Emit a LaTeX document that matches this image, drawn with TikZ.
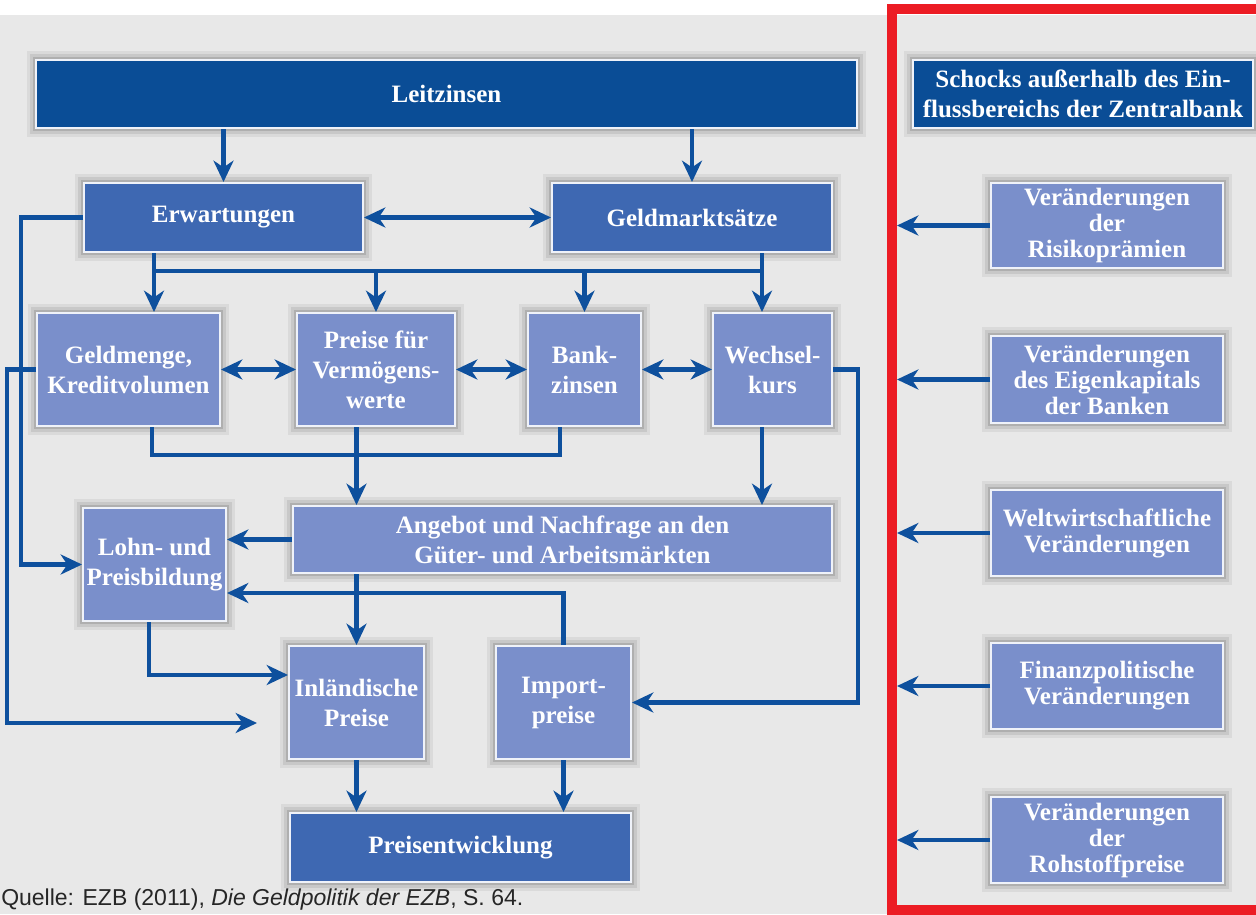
\documentclass[tikz,border=0pt]{standalone}
\usepackage{fontspec}
\setmainfont{Liberation Serif}
\newfontfamily\quellefont{Liberation Sans}
\usepackage{tikz}
\usetikzlibrary{arrows.meta}

\definecolor{bgGray}{RGB}{232,232,232}
\definecolor{ezbDark}{RGB}{10,77,150}
\definecolor{ezbMid}{RGB}{62,104,178}
\definecolor{ezbLight}{RGB}{122,143,203}
\definecolor{ezbArrow}{RGB}{14,80,157}
\definecolor{frameRed}{RGB}{236,28,36}

\begin{document}
\begin{tikzpicture}[x=0.75pt,y=0.75pt,yscale=-1,xscale=1,
  >={Stealth[length=16pt,width=15pt,inset=5pt]},
  glow/.style={preaction={draw=black, draw opacity=0.06, line width=14pt},
    preaction={draw=black, draw opacity=0.08, line width=9pt},
    preaction={draw=black, draw opacity=0.12, line width=5pt}},
  box/.style={glow, draw=white!88!ezbLight, line width=1.5pt, inner sep=0pt, text=white, align=center,
    font=\fontsize{18.75}{22.5}\selectfont\bfseries},
  dark/.style={box, fill=ezbDark},
  mid/.style={box, fill=ezbMid},
  light/.style={box, fill=ezbLight},
  shock/.style={light, minimum width=174pt, minimum height=64.5pt, font=\fontsize{18.75}{19.5}\selectfont\bfseries},
  conn/.style={draw=ezbArrow, line width=3.5pt},
  arr/.style={conn, ->},
  dbl/.style={conn, <->}]
\useasboundingbox (0,0) rectangle (1256,914);

%Background
\fill[white] (0,0) rectangle (1256,15);
\fill[bgGray] (0,15) rectangle (1256,914);

%Shape: Rectangle [left part]
\node[dark, minimum width=615.75pt, minimum height=51pt] (leit) at (446.5,94) {Leitzinsen};
\node[mid, minimum width=209.25pt, minimum height=51.75pt] (erw) at (223.5,217.5) {Erwartungen};
\node[mid, minimum width=210pt, minimum height=51.75pt] (gms) at (692,217.5) {Geldmarktsätze};
\node[light, minimum width=137.25pt, minimum height=84.75pt] (menge) at (128.5,369.5) {Geldmenge,\\Kreditvolumen};
\node[light, minimum width=118.5pt, minimum height=84.75pt] (verm) at (376,369.5) {Preise für\\Vermögens-\\werte};
\node[light, minimum width=84.75pt, minimum height=84.75pt] (bank) at (584.5,369.5) {Bank-\\zinsen};
\node[light, minimum width=89.25pt, minimum height=84.75pt] (wech) at (772.5,369.5) {Wechsel-\\kurs};
\node[light, minimum width=404.25pt, minimum height=50.25pt] (ang) at (562.5,539.5) {Angebot und Nachfrage an den\\Güter- und Arbeitsmärkten};
\node[light, minimum width=107.25pt, minimum height=84.75pt] (lohn) at (154.5,564.5) {Lohn- und\\Preisbildung};
\node[light, minimum width=101.25pt, minimum height=84.75pt] (inl) at (356.5,702.5) {Inländische\\Preise};
\node[light, minimum width=101.25pt, minimum height=84.75pt] (imp) at (563.5,702.5) {Import-\\preise};
\node[mid, minimum width=255.75pt, minimum height=51.75pt] (pent) at (460.5,847.5) {Preisentwicklung};

%Shape: Rectangle [shocks]
\node[dark, minimum width=255pt, minimum height=51pt] (schock) at (1083,94) {Schocks außerhalb des Ein-\\flussbereichs der Zentralbank};
\node[shock, minimum height=63.75pt] (risk) at (1107,225.5) {Veränderungen\\der\\Risikoprämien};
\node[shock, minimum height=65.25pt] (eigen) at (1107,379.5) {Veränderungen\\des Eigenkapitals\\der Banken};
\node[shock] (welt) at (1107,533) {Weltwirtschaftliche\\Veränderungen};
\node[shock] (fin) at (1107,686) {Finanzpolitische\\Veränderungen};
\node[shock] (roh) at (1107,840) {Veränderungen\\der\\Rohstoffpreise};

%Red frame
\draw[frameRed, line width=7.5pt] (892,9) rectangle (1270,909.5);

%Straight Lines
\draw[arr] (leit.south -| erw.north) -- (erw.north);
\draw[arr] (leit.south -| gms.north) -- (gms.north);
\draw[dbl] (erw.east) -- (gms.west);

\coordinate (sL) at (154,271);
\coordinate (sR) at (762,271);
\draw[conn] (sL) -- (sR);
\draw[arr] (erw.south -| sL) -- (menge.north -| sL);
\draw[arr] (gms.south -| sR) -- (wech.north -| sR);
\draw[arr] (sL -| verm.north) -- (verm.north);
\draw[arr] (sL -| bank.north) -- (bank.north);

\draw[dbl] (menge.east) -- (verm.west);
\draw[dbl] (verm.east) -- (bank.west);
\draw[dbl] (bank.east) -- (wech.west);

\coordinate (mL) at (152,455);
\coordinate (mR) at (560,455);
\draw[conn] (menge.south -| mL) -- (mL) -- (mR) -- (bank.south -| mR);
\draw[arr] (verm.south -| inl.north) -- (ang.north -| inl.north);
\draw[arr] (wech.south -| sR) -- (ang.north -| sR);
\draw[arr] (ang.west) -- (ang.west -| lohn.east);
\draw[arr] (ang.south -| inl.north) -- (inl.north);

\coordinate (rt) at (561,593);
\draw[arr] (imp.north) |- (lohn.east |- rt);

\coordinate (lq) at (149,675);
\draw[arr] (lohn.south -| lq) -- (lq) -- (lq -| inl.west);

\coordinate (eL) at (21,564.5);
\draw[arr] (erw.west) -| (eL) -- (lohn.west);

\coordinate (gL) at (7,723);
\coordinate (gE) at (257,723);
\draw[arr] (menge.west) -| (gL) -- (gE);

\coordinate (wR) at (858,702.5);
\draw[arr] (wech.east) -| (wR) -- (imp.east);

\draw[arr] (inl.south) -- (inl.south |- pent.north);
\draw[arr] (imp.south) -- (imp.south |- pent.north);

\coordinate (fL) at (897,0);
\foreach \s in {risk,eigen,welt,fin,roh}
  \draw[arr] (\s.west) -- (\s.west -| fL);

% Text Node
\node[anchor=base west, inner sep=0pt, text=black!85, font=\quellefont\fontsize{17.25}{20}\selectfont] (quelle) at (1,905) {Quelle: EZB (2011), \textit{Die Geldpolitik der EZB}, S. 64.};

\end{tikzpicture}
\end{document}
